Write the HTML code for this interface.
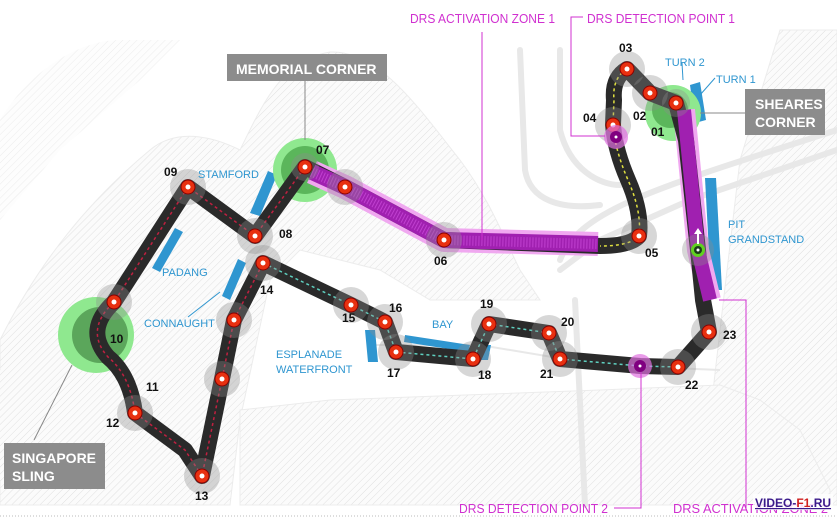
<!DOCTYPE html>
<html><head><meta charset="utf-8"><style>
html,body{margin:0;padding:0;background:#fff}
svg{display:block}
text{font-family:"Liberation Sans",sans-serif}
</style></head><body>
<svg width="837" height="519" viewBox="0 0 837 519" xmlns="http://www.w3.org/2000/svg">
<defs>
<pattern id="h" width="5" height="5" patternUnits="userSpaceOnUse" patternTransform="rotate(45)">
<rect width="5" height="5" fill="#fbfbfb"/><line x1="0" y1="0" x2="0" y2="5" stroke="#e0e0e0" stroke-width="1"/>
</pattern>
</defs>
<rect width="837" height="519" fill="#fff"/>
<!-- land -->
<path d="M0,340 C40,260 90,200 150,150 C180,125 220,140 240,150 C260,110 280,60 330,52 C380,50 420,110 460,160 C490,200 505,240 520,270 L540,300 L430,300 L380,270 L300,250 L270,280 L240,420 L230,505 L0,505 Z" fill="url(#h)" stroke="#ececec"/>
<path d="M0,120 C30,70 80,40 120,40 L180,40 L140,80 L60,150 L0,220Z" fill="url(#h)" opacity="0.6"/>
<path d="M780,30 L837,30 L837,505 L700,505 L720,330 L740,160 Z" fill="url(#h)" stroke="#ececec"/>
<path d="M240,410 L330,400 L600,390 L720,385 L760,400 L800,430 L830,490 L830,505 L240,505 Z" fill="url(#h)" stroke="#ececec"/>
<path d="M370,345 L480,345 L600,365 L720,370" fill="none" stroke="#e8e8e8" stroke-width="2"/>
<path d="M0,370 L60,400 L90,480 L0,480Z" fill="url(#h)"/>
<!-- roads -->
<g fill="none" stroke="#e8e8e8" stroke-width="6" stroke-linecap="round">
<path d="M520,50 L525,170 C530,200 560,210 600,205"/>
<path d="M560,50 L560,130 C570,170 600,185 620,185"/>
<path d="M560,260 C580,210 650,190 837,130"/>
<path d="M560,270 L600,240 L690,200 L837,150"/>
<path d="M575,300 L585,505"/>
</g>
<!-- blue stands -->
<g fill="#2f96d0">
<polygon points="250,213 260,216 277,175 268,171"/>
<polygon points="152,268 160,272 183,232 175,228"/>
<polygon points="222,296 230,300 246,263 238,259"/>
<polygon points="365,330 375,330 378,362 368,362"/>
<polygon points="405,335 470,345 468,352 404,342"/>
<polygon points="483,345 491,345 488,360 480,360"/>
<polygon points="690,85 700,82 706,120 695,123"/>
<polygon points="705,178 716,178 722,290 711,290"/>
</g>
<!-- green corner highlights -->
<circle cx="305" cy="170" r="32" fill="#8fe88f"/><circle cx="305" cy="170" r="24" fill="#5bb65b"/>
<circle cx="96" cy="335" r="38" fill="#8fe88f"/><circle cx="100" cy="335" r="28" fill="#5ba65b"/>
<circle cx="673" cy="113" r="28" fill="#8fe88f"/><circle cx="670" cy="110" r="18" fill="#5bb65b"/>
<g fill="none" stroke-linejoin="round" stroke-linecap="butt">
<path d="M312,172 L345,187 L444,240 L598,244" stroke="#f0a8f0" stroke-width="24"/>
<path d="M710,300 L698,250 L684,110" stroke="#f0a8f0" stroke-width="22"/>
</g>
<!-- track -->
<path d="M676,103 L650,93 L627,69 Q612,78 614,100 L613,125 Q615,150 628,180 Q642,212 639,236 Q630,246 600,246 L444,240 L345,187 L305,167 L255,236 L188,187 L114,302 Q84,330 108,357 Q130,375 135,413 L185,450 L202,476 L222,379 L234,320 L263,263 L351,305 L385,322 L396,352 L473,359 L489,324 L549,333 L560,359 L640,366 L678,367 L709,332 L703,300 L698,250 L686,140 L676,103 Z" fill="none" stroke="#2a2a2a" stroke-width="16" stroke-linejoin="round"/>
<g fill="none" stroke-linejoin="round">
<path d="M312,172 L345,187 L444,240 L598,244" stroke="#a020b0" stroke-width="16"/>
<path d="M710,300 L698,250 L684,110" stroke="#a020b0" stroke-width="14"/>
<path d="M312,172 L345,187 L444,240 L598,244" stroke="#c040d0" stroke-width="10" stroke-dasharray="1 2"/>
</g>
<path d="M263,263 L351,305 L385,322 L396,352 L473,359 L489,324 L549,333 L560,359 L640,366 L678,367" fill="none" stroke="#5fd0c0" stroke-width="1.5" stroke-dasharray="3 3"/>
<path d="M627,69 Q612,78 614,100 L613,125 Q615,150 628,180 Q642,212 639,236 Q630,246 600,246" fill="none" stroke="#e0e040" stroke-width="1.5" stroke-dasharray="3 3"/>
<path d="M305,167 L255,236 L188,187 L114,302 Q84,330 108,357 Q130,375 135,413 L185,450 L202,476 L222,379 L234,320 L263,263" fill="none" stroke="#c02040" stroke-width="1.5" stroke-dasharray="3 3"/>
<g>
<g fill="rgba(140,140,140,0.35)">
<circle cx="627" cy="69" r="18"/><circle cx="650" cy="93" r="18"/><circle cx="676" cy="103" r="14"/><circle cx="613" cy="125" r="18"/>
<circle cx="639" cy="236" r="18"/><circle cx="444" cy="240" r="18"/><circle cx="345" cy="187" r="18"/><circle cx="305" cy="167" r="14"/>
<circle cx="255" cy="236" r="18"/><circle cx="188" cy="187" r="18"/><circle cx="114" cy="302" r="18"/><circle cx="135" cy="413" r="18"/>
<circle cx="202" cy="476" r="18"/><circle cx="222" cy="379" r="18"/><circle cx="234" cy="320" r="18"/><circle cx="263" cy="263" r="18"/>
<circle cx="351" cy="305" r="18"/><circle cx="385" cy="322" r="18"/><circle cx="396" cy="352" r="18"/><circle cx="473" cy="359" r="18"/>
<circle cx="489" cy="324" r="18"/><circle cx="549" cy="333" r="18"/><circle cx="560" cy="359" r="18"/><circle cx="678" cy="367" r="18"/>
<circle cx="709" cy="332" r="18"/><circle cx="698" cy="250" r="16"/>
</g>
<g fill="#e83010" stroke="#8a0000" stroke-width="1">
<circle cx="627" cy="69" r="7"/><circle cx="650" cy="93" r="7"/><circle cx="676" cy="103" r="7"/><circle cx="613" cy="125" r="7"/>
<circle cx="639" cy="236" r="7"/><circle cx="444" cy="240" r="7"/><circle cx="345" cy="187" r="7"/><circle cx="305" cy="167" r="7"/>
<circle cx="255" cy="236" r="7"/><circle cx="188" cy="187" r="7"/><circle cx="114" cy="302" r="7"/><circle cx="135" cy="413" r="7"/>
<circle cx="202" cy="476" r="7"/><circle cx="222" cy="379" r="7"/><circle cx="234" cy="320" r="7"/><circle cx="263" cy="263" r="7"/>
<circle cx="351" cy="305" r="7"/><circle cx="385" cy="322" r="7"/><circle cx="396" cy="352" r="7"/><circle cx="473" cy="359" r="7"/>
<circle cx="489" cy="324" r="7"/><circle cx="549" cy="333" r="7"/><circle cx="560" cy="359" r="7"/><circle cx="678" cy="367" r="7"/>
<circle cx="709" cy="332" r="7"/>
</g>
<g fill="#fff">
<circle cx="627" cy="69" r="2.5"/><circle cx="650" cy="93" r="2.5"/><circle cx="676" cy="103" r="2.5"/><circle cx="613" cy="125" r="2.5"/>
<circle cx="639" cy="236" r="2.5"/><circle cx="444" cy="240" r="2.5"/><circle cx="345" cy="187" r="2.5"/><circle cx="305" cy="167" r="2.5"/>
<circle cx="255" cy="236" r="2.5"/><circle cx="188" cy="187" r="2.5"/><circle cx="114" cy="302" r="2.5"/><circle cx="135" cy="413" r="2.5"/>
<circle cx="202" cy="476" r="2.5"/><circle cx="222" cy="379" r="2.5"/><circle cx="234" cy="320" r="2.5"/><circle cx="263" cy="263" r="2.5"/>
<circle cx="351" cy="305" r="2.5"/><circle cx="385" cy="322" r="2.5"/><circle cx="396" cy="352" r="2.5"/><circle cx="473" cy="359" r="2.5"/>
<circle cx="489" cy="324" r="2.5"/><circle cx="549" cy="333" r="2.5"/><circle cx="560" cy="359" r="2.5"/><circle cx="678" cy="367" r="2.5"/>
<circle cx="709" cy="332" r="2.5"/>
</g>
<circle cx="616" cy="137" r="12" fill="#e070e0" opacity="0.7"/><circle cx="616" cy="137" r="6" fill="#800080"/><circle cx="616" cy="137" r="1.5" fill="#fff"/>
<circle cx="640" cy="366" r="12" fill="#e070e0" opacity="0.7"/><circle cx="640" cy="366" r="6" fill="#800080"/><circle cx="640" cy="366" r="1.5" fill="#fff"/>
<circle cx="698" cy="250" r="7" fill="#60d020"/><circle cx="698" cy="250" r="4" fill="#1a3a1a"/><circle cx="698" cy="250" r="1.5" fill="#fff"/>
<path d="M694,234 L698,228 L702,234 L699,234 L699,244 L697,244 L697,234Z" fill="#fff"/>
</g>
<g font-size="12" font-weight="bold" fill="#111">
<text x="619" y="52">03</text><text x="633" y="120">02</text><text x="651" y="136">01</text><text x="583" y="122">04</text>
<text x="645" y="257">05</text><text x="434" y="265">06</text><text x="316" y="154">07</text><text x="279" y="238">08</text>
<text x="164" y="176">09</text><text x="110" y="343">10</text><text x="146" y="391">11</text><text x="106" y="427">12</text>
<text x="195" y="500">13</text><text x="260" y="294">14</text><text x="342" y="322">15</text><text x="389" y="312">16</text>
<text x="387" y="377">17</text><text x="478" y="379">18</text><text x="480" y="308">19</text><text x="561" y="326">20</text>
<text x="540" y="378">21</text><text x="685" y="389">22</text><text x="723" y="339">23</text>
</g>
<g font-size="11" fill="#2f96d0">
<text x="198" y="178">STAMFORD</text>
<text x="162" y="276">PADANG</text>
<text x="144" y="327">CONNAUGHT</text>
<text x="432" y="328">BAY</text>
<text x="276" y="358">ESPLANADE</text><text x="276" y="373">WATERFRONT</text>
<text x="665" y="66">TURN 2</text><text x="716" y="83">TURN 1</text>
<text x="728" y="228">PIT</text><text x="728" y="243">GRANDSTAND</text>
</g>
<g stroke="#2f96d0" fill="none" stroke-width="1"><path d="M188,317 L220,292"/><path d="M682,63 L683,80"/><path d="M715,78 L700,95"/></g>
<g stroke="#888" stroke-width="1" fill="none">
<path d="M305,80 L305,140"/><path d="M700,113 L745,113"/><path d="M34,440 L72,365"/>
</g>
<rect x="227" y="54" width="160" height="27" fill="#8c8c8c"/>
<text x="236" y="74" font-size="14" font-weight="bold" fill="#fff">MEMORIAL CORNER</text>
<rect x="745" y="89" width="80" height="46" fill="#8c8c8c"/>
<text x="755" y="109" font-size="14" font-weight="bold" fill="#fff">SHEARES</text>
<text x="755" y="127" font-size="14" font-weight="bold" fill="#fff">CORNER</text>
<rect x="4" y="443" width="101" height="46" fill="#8c8c8c"/>
<text x="12" y="463" font-size="14" font-weight="bold" fill="#fff">SINGAPORE</text>
<text x="12" y="481" font-size="14" font-weight="bold" fill="#fff">SLING</text>
<g stroke="#d030d0" stroke-width="1" fill="none">
<path d="M482,32 L482,240"/>
<path d="M583,17 L571,17 L571,136 L605,136"/>
<path d="M641,372 L641,508 L614,508"/>
<path d="M719,300 L746,300 L746,508"/>
</g>
<g font-size="13" fill="#d030d0">
<text x="410" y="23" textLength="145" lengthAdjust="spacingAndGlyphs">DRS ACTIVATION ZONE 1</text>
<text x="587" y="23" textLength="148" lengthAdjust="spacingAndGlyphs">DRS DETECTION POINT 1</text>
<text x="459" y="513" textLength="149" lengthAdjust="spacingAndGlyphs">DRS DETECTION POINT 2</text>
<text x="673" y="513" textLength="155" lengthAdjust="spacingAndGlyphs">DRS ACTIVATION ZONE 2</text>
</g>
<rect x="753" y="494" width="80" height="16" fill="#fff" opacity="0.8"/>
<text x="755" y="507" font-size="12" font-weight="bold" fill="#3a1a8a" text-decoration="underline">VIDEO-<tspan fill="#d02020">F1</tspan>.RU</text>
<line x1="0" y1="516" x2="837" y2="516" stroke="#bbb" stroke-dasharray="1 2"/>
</svg>
</body></html>
